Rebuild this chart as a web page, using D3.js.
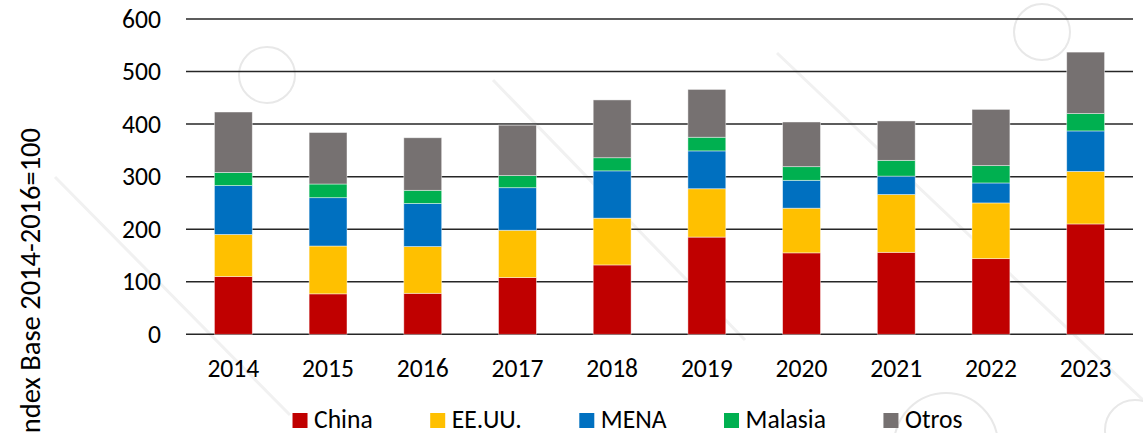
<!DOCTYPE html>
<html>
<head>
<meta charset="utf-8">
<script src="https://cdn.jsdelivr.net/npm/d3@7"></script>
<style>
  body { margin: 0; background: #fff; }
  text { font-family: Carlito, "Open Sans", sans-serif; fill: #000; }
</style>
</head>
<body>
<script>
// data
var years = ['2014','2015','2016','2017','2018','2019','2020','2021','2022','2023']
var china   = [110, 77, 78, 108, 132, 185, 155, 156, 144, 210]
var eeuu    = [80, 91, 89, 90, 89, 92, 85, 110, 106, 100]
var mena    = [93, 92, 82, 81, 90, 72, 53, 35, 38, 77]
var malasia = [25, 26, 25, 23, 25, 26, 26, 30, 33, 33]
var otros   = [115, 98, 100, 96, 110, 91, 85, 75, 107, 117]
var seriesNames = ['China', 'EE.UU.', 'MENA', 'Malasia', 'Otros']
var yTicks = [0, 100, 200, 300, 400, 500, 600]
var yTitle = 'Index Base 2014-2016=100'

var colors = ['#C00000', '#FFC000', '#0070C0', '#00B050', '#767171']

var W = 1143, H = 433
var svg = d3.select('body').append('svg')
	.attr('width', W)
	.attr('height', H)

// faint watermark in the background
var deco = svg.append('g').attr('fill', 'none')
deco.selectAll('line')
	.data([[55,177,290,415],[493,80,745,340],[777,53,1143,400]])
	.enter().append('line')
	.attr('x1', function(d){ return d[0] }).attr('y1', function(d){ return d[1] })
	.attr('x2', function(d){ return d[2] }).attr('y2', function(d){ return d[3] })
	.attr('stroke', '#f1f1f1').attr('stroke-width', 3)
deco.selectAll('circle')
	.data([[267,75,28],[1042,32,28],[946,445,52],[1135,430,30]])
	.enter().append('circle')
	.attr('cx', function(d){ return d[0] }).attr('cy', function(d){ return d[1] })
	.attr('r', function(d){ return d[2] })
	.attr('stroke', '#e8e8e8').attr('stroke-width', 2)

// scales
var x = d3.scaleBand()
	.domain(years)
	.range([186, 1133])
	.paddingInner(0.6)
	.paddingOuter(0.3)
var y = d3.scaleLinear()
	.domain([0, 600])
	.range([334.3, 19])

// gridlines
svg.append('g')
	.selectAll('line')
	.data(yTicks)
	.enter().append('line')
	.attr('x1', 186).attr('x2', 1133)
	.attr('y1', function(d){ return y(d) }).attr('y2', function(d){ return y(d) })
	.attr('stroke', '#262626')
	.attr('stroke-width', 1.5)

// y tick labels
svg.append('g')
	.selectAll('text')
	.data(yTicks)
	.enter().append('text')
	.attr('x', 161)
	.attr('y', function(d){ return y(d) + 8.5 })
	.attr('text-anchor', 'end')
	.style('font-size', '25.6px')
	.text(function(d){ return d })

// stacked bars
var rows = years.map(function(yr, i){
	return { year: yr, China: china[i], 'EE.UU.': eeuu[i], MENA: mena[i], Malasia: malasia[i], Otros: otros[i] }
})
var stack = d3.stack().keys(seriesNames)(rows)

svg.append('g')
	.selectAll('g')
	.data(stack)
	.enter().append('g')
	.attr('fill', function(d, i){ return colors[i] })
	.selectAll('rect')
	.data(function(d){ return d })
	.enter().append('rect')
	.attr('x', function(d){ return x(d.data.year) })
	.attr('width', x.bandwidth())
	.attr('y', function(d){ return y(d[1]) })
	.attr('height', function(d){ return y(d[0]) - y(d[1]) })
	.attr('stroke', '#ffffff')
	.attr('stroke-opacity', 0.55)
	.attr('stroke-width', 0.8)

// x labels
svg.append('g')
	.selectAll('text')
	.data(years)
	.enter().append('text')
	.attr('x', function(d){ return x(d) + x.bandwidth() / 2 })
	.attr('y', 377)
	.attr('text-anchor', 'middle')
	.style('font-size', '25.6px')
	.text(function(d){ return d })

// y title (clipped at the bottom like the original)
svg.append('text')
	.attr('transform', 'translate(40,128) rotate(-90)')
	.attr('text-anchor', 'end')
	.style('font-size', '28.5px')
	.text(yTitle)

// legend
var legend = svg.append('g')
var cursor = 0
seriesNames.forEach(function(name, i){
	var item = legend.append('g').attr('transform', 'translate(' + cursor + ',0)')
	item.append('rect')
		.attr('x', 0).attr('y', 413)
		.attr('width', 15).attr('height', 15)
		.attr('fill', colors[i])
	var t = item.append('text')
		.attr('x', 21.5).attr('y', 427.5)
		.style('font-size', '25.6px')
		.text(name)
	cursor += 21.5 + t.node().getComputedTextLength() + 57.5
})
var legendWidth = cursor - 57.5
legend.attr('transform', 'translate(' + (627.5 - legendWidth / 2) + ',0)')
</script>
</body>
</html>
